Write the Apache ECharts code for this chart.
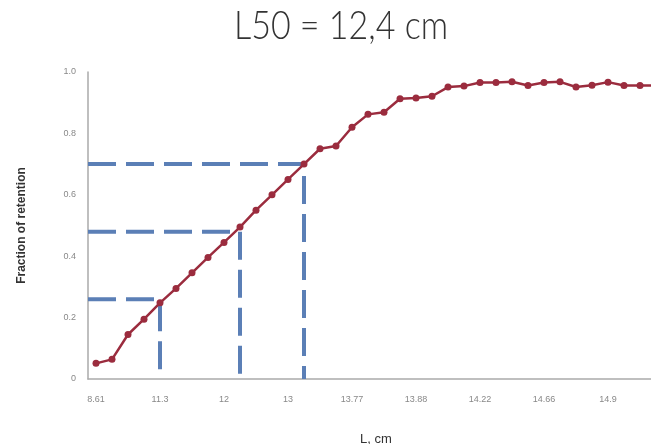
<!DOCTYPE html>
<html>
<head>
<meta charset="utf-8">
<script src="https://cdn.jsdelivr.net/npm/echarts@6/dist/echarts.min.js"></script>
<style>
  html, body { margin: 0; padding: 0; background: #fff; }
  #chart { width: 651px; height: 444px; }
</style>
</head>
<body>
<div id="chart"></div>
<script>
// labels shown under every 4th point
const tickLabels = ['8.61', '11.3', '12', '13', '13.77', '13.88', '14.22', '14.66', '14.9'];
// fraction retained, one value per length class
const retention = [
  0.051, 0.064, 0.145, 0.195, 0.248, 0.295, 0.346, 0.396, 0.445, 0.495,
  0.55, 0.60, 0.65, 0.70, 0.75, 0.759, 0.82, 0.862, 0.869, 0.913,
  0.915, 0.921, 0.951, 0.954, 0.966, 0.966, 0.968, 0.956, 0.966, 0.968,
  0.951, 0.957, 0.967, 0.956, 0.956, 0.956
];
// dashed guide lines: level and the point they drop from
const guideLevels = [0.26, 0.48, 0.70];
const guideIndex = [4, 9, 13];

const chart = echarts.init(document.getElementById('chart'));

const guides = guideLevels.map((lvl, k) => ({
  type: 'line',
  xAxisIndex: 1,
  symbol: 'none',
  silent: true,
  z: 1,
  lineStyle: { color: '#5b7fb6', width: 4, type: [28, 10] },
  data: [[0, lvl], [guideIndex[k] + 0.5, lvl], [guideIndex[k] + 0.5, 0]]
}));

chart.setOption({
  animation: false,
  // title drawn as graphic text so it can be stretched a little vertically
  graphic: [{
    type: 'text',
    x: 234,
    y: 7,
    scaleY: 1.15,
    style: {
      text: 'L50 = 12,4 cm',
      font: '300 34px Lato',
      fill: '#333',
      verticalAlign: 'top'
    }
  }],
  grid: {
    left: 88, top: 72, height: 307,
    width: retention.length * 16,
    outerBoundsMode: 'none'
  },
  xAxis: [{
    type: 'category',
    data: retention.map((_, i) => String(i)),
    boundaryGap: true,
    name: 'L, cm',
    nameLocation: 'middle',
    nameGap: 54,
    nameTextStyle: { fontFamily: 'Liberation Sans', fontSize: 13, color: '#333' },
    axisLine: { lineStyle: { color: '#aaa', width: 1.5 } },
    axisTick: { show: false },
    axisLabel: {
      interval: 3,
      margin: 16,
      fontFamily: 'Liberation Sans',
      fontSize: 9,
      color: '#888',
      formatter: (v) => tickLabels[Number(v) / 4] || ''
    }
  }, {
    type: 'value',
    show: false,
    min: 0,
    max: retention.length
  }],
  yAxis: {
    type: 'value',
    min: 0,
    max: 1,
    interval: 0.2,
    name: 'Fraction of retention',
    nameLocation: 'middle',
    nameGap: 60,
    nameTextStyle: { fontFamily: 'Liberation Sans', fontSize: 12, fontWeight: 'bold', color: '#333' },
    axisLine: { show: true, lineStyle: { color: '#aaa', width: 1.5 } },
    axisTick: { show: false },
    splitLine: { show: false },
    axisLabel: {
      margin: 12,
      fontFamily: 'Liberation Sans',
      fontSize: 9,
      color: '#888',
      formatter: (v) => (v === 0 ? '0' : v.toFixed(1))
    }
  },
  series: guides.concat([{
    type: 'line',
    data: retention,
    z: 3,
    symbol: 'circle',
    symbolSize: 7,
    lineStyle: { color: '#9b2c3e', width: 2.5 },
    itemStyle: { color: '#9b2c3e' }
  }])
});
</script>
</body>
</html>
